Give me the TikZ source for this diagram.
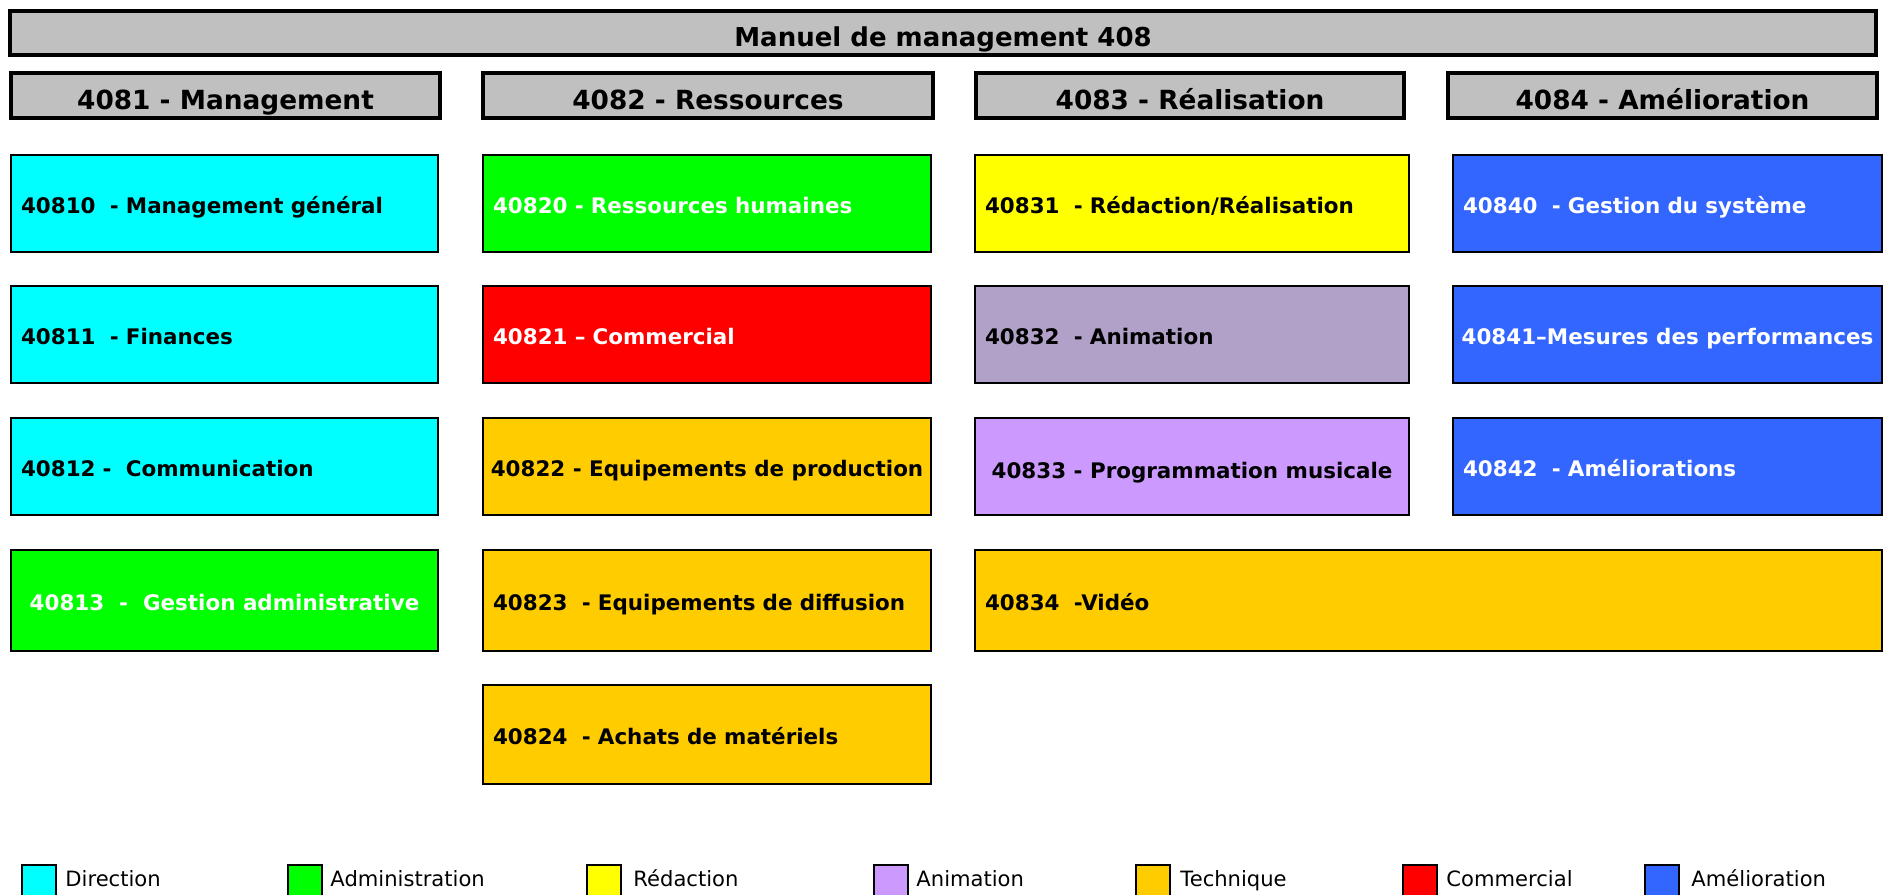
\documentclass[tikz,border=0pt]{standalone}
\usepackage{fontspec}
\usepackage{xcolor}
\usetikzlibrary{positioning}
\newfontfamily\verdfont{DejaVu Sans}
\definecolor{headgrey}{HTML}{C0C0C0}
\definecolor{direction}{HTML}{00FFFF}
\definecolor{admin}{HTML}{00FF00}
\definecolor{redac}{HTML}{FFFF00}
\definecolor{anim}{HTML}{CC99FF}
\definecolor{animbox}{HTML}{B1A0C7}
\definecolor{techn}{HTML}{FFCC00}
\definecolor{comm}{HTML}{FF0000}
\definecolor{amel}{HTML}{3366FF}

\begin{document}
\begin{tikzpicture}[
    title/.style={rectangle, draw, line width=0.035cm, fill=headgrey, inner sep=0pt, minimum height=0.44cm, text height=0.27cm, text depth=0cm, font=\verdfont\bfseries\fontsize{7.4}{8}\selectfont},
    head/.style={title, minimum height=0.45cm, text height=0.28cm, font=\verdfont\bfseries\fontsize{7.5}{8}\selectfont},
    cell/.style={rectangle, draw, line width=0.02cm, inner ysep=0pt, minimum height=0.97cm, text height=0.2cm, text depth=0cm, font=\verdfont\bfseries\fontsize{6.1}{7}\selectfont},
    lft/.style={inner xsep=0.1cm, text width=#1, align=left},
    mid/.style={inner xsep=0pt, minimum width=#1},
    key/.style={rectangle, draw, line width=0.015cm, minimum width=0.34cm, minimum height=0.36cm, inner sep=0pt},
    keytext/.style={inner sep=0pt, text height=0.12cm, text depth=0.046cm, font=\verdfont\fontsize{6}{7}\selectfont}
]
\useasboundingbox (0,0) rectangle (18.83,-8.94);

% Title
\node[title, minimum width=18.66cm] (manuel) at (9.43,-0.33) {Manuel de management 408};

% Column headers
\node[head, minimum width=4.29cm] (h4081) at (2.255,-0.955) {4081 - Management};
\node[head, minimum width=4.50cm] (h4082) at (7.08,-0.955) {4082 - Ressources};
\node[head, minimum width=4.28cm] (h4083) at (11.90,-0.955) {4083 - Réalisation};
\node[head, minimum width=4.29cm] (h4084) at (16.625,-0.955) {4084 - Amélioration};

% Management
\node[cell, lft=4.07cm, fill=direction] (m40810) at (2.245,-2.03) {40810~ - Management général};
\node[cell, lft=4.07cm, fill=direction] (m40811) at (2.245,-3.345) {40811~ - Finances};
\node[cell, lft=4.07cm, fill=direction] (m40812) at (2.245,-4.66) {40812 -~ Communication};
\node[cell, mid=4.27cm, minimum height=1.01cm, fill=admin, text=white] (m40813) at (2.245,-6.005) {40813~ -~ Gestion administrative};

% Ressources
\node[cell, lft=4.28cm, fill=admin, text=white] (r40820) at (7.07,-2.03) {40820 - Ressources humaines};
\node[cell, lft=4.28cm, fill=comm, text=white] (r40821) at (7.07,-3.345) {40821 – Commercial};
\node[cell, mid=4.48cm, fill=techn] (r40822) at (7.07,-4.66) {40822 - Equipements de production};
\node[cell, lft=4.28cm, minimum height=1.01cm, fill=techn] (r40823) at (7.07,-6.005) {40823~ - Equipements de diffusion};
\node[cell, lft=4.28cm, minimum height=0.99cm, fill=techn] (r40824) at (7.07,-7.345) {40824~ - Achats de matériels};

% Realisation
\node[cell, lft=4.14cm, fill=redac] (p40831) at (11.92,-2.03) {40831~ - Rédaction/Réalisation};
\node[cell, lft=4.14cm, fill=animbox] (p40832) at (11.92,-3.345) {40832~ - Animation};
\node[cell, mid=4.34cm, text height=0.25cm, fill=anim] (p40833) at (11.92,-4.66) {40833 - Programmation musicale};
\node[cell, lft=8.87cm, minimum height=1.01cm, fill=techn] (p40834) at (14.285,-6.005) {40834~ -Vidéo};

% Amelioration
\node[cell, lft=4.09cm, fill=amel, text=white] (a40840) at (16.675,-2.03) {40840~ - Gestion du système};
\node[cell, mid=4.29cm, fill=amel, text=white] (a40841) at (16.675,-3.345) {40841–Mesures des performances};
\node[cell, lft=4.09cm, fill=amel, text=white] (a40842) at (16.675,-4.66) {40842~ - Améliorations};

% Legend
\node[key, fill=direction] (kdir) at (0.39,-8.83) {};
\node[keytext, right=0.08cm of kdir] (tdir) {Direction};
\node[key, fill=admin] (kadm) at (3.05,-8.83) {};
\node[keytext, right=0.07cm of kadm] (tadm) {Administration};
\node[key, fill=redac] (kred) at (6.04,-8.83) {};
\node[keytext, right=0.11cm of kred] (tred) {Rédaction};
\node[key, fill=anim] (kani) at (8.91,-8.83) {};
\node[keytext, right=0.07cm of kani] (tani) {Animation};
\node[key, fill=techn] (ktec) at (11.53,-8.83) {};
\node[keytext, right=0.09cm of ktec] (ttec) {Technique};
\node[key, fill=comm] (kcom) at (14.20,-8.83) {};
\node[keytext, right=0.08cm of kcom] (tcom) {Commercial};
\node[key, fill=amel] (kame) at (16.62,-8.83) {};
\node[keytext, right=0.11cm of kame] (tame) {Amélioration};

\end{tikzpicture}
\end{document}
